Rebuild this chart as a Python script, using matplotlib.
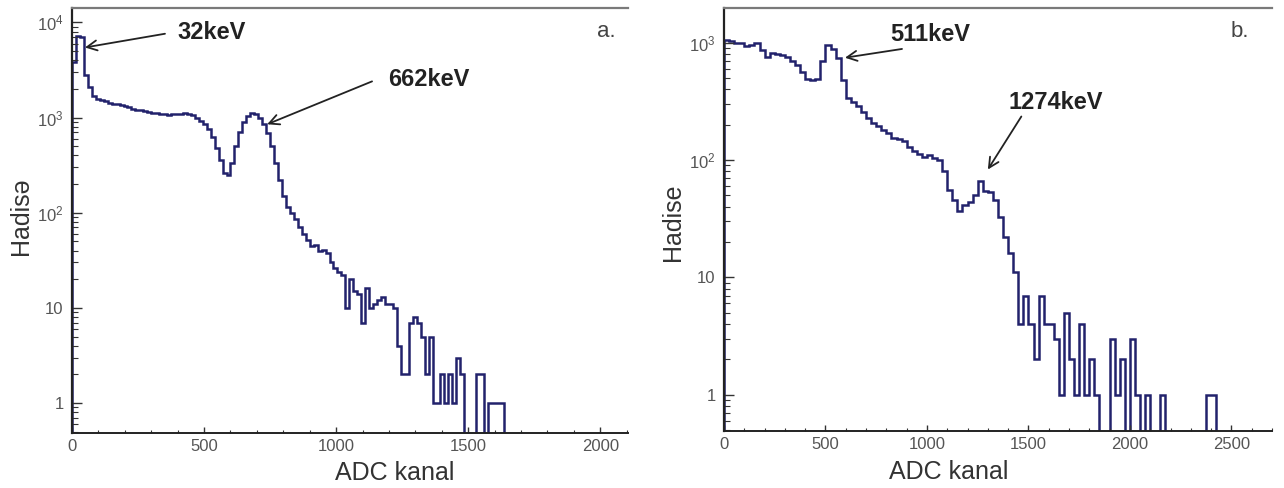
import numpy as np
import matplotlib
matplotlib.use("Agg")
import matplotlib.pyplot as plt
from matplotlib.ticker import FixedLocator, FixedFormatter, MultipleLocator

plt.rcParams["font.family"] = ["Liberation Sans", "DejaVu Sans"]
plt.rcParams["mathtext.default"] = "regular"

# ---- panel a: Cs-137 spectrum, 15-channel bins from 0 to 2100 ----
bin_a = 15
counts_a = [
    3800, 7200, 7000, 2800, 2100, 1700, 1580, 1530, 1480, 1430,
    1400, 1380, 1340, 1310, 1280, 1240, 1210, 1190, 1160, 1140,
    1110, 1120, 1090, 1080, 1060, 1090, 1100, 1090, 1110, 1090,
    1060, 1000, 930, 860, 760, 620, 480, 360, 260, 250,
    330, 500, 700, 890, 1050, 1130, 1100, 980, 860, 690,
    500, 330, 220, 150, 115, 100, 85, 70, 60, 52,
    45, 46, 40, 41, 38, 30, 26, 24, 22, 10,
    20, 15, 14, 7, 16, 10, 11, 12, 13, 11,
    11, 10, 4, 2, 2, 7, 8, 7, 5, 2,
    5, 1, 1, 2, 1, 2, 1, 3, 2, 0,
    0, 0, 2, 2, 0, 1, 1, 1, 1, 0,
]
counts_a = counts_a + [0] * (140 - len(counts_a))

# ---- panel b: Na-22 spectrum, 25-channel bins from 0 to 2700 ----
bin_b = 25
counts_b = [
    1050, 1030, 1000, 1000, 930, 960, 1000, 870, 760, 815,
    800, 790, 760, 700, 640, 560, 490, 480, 490, 700,
    960, 880, 740, 480, 340, 315, 290, 255, 230, 205,
    195, 180, 170, 155, 150, 145, 130, 120, 112, 106,
    110, 104, 100, 80, 55, 46, 37, 41, 44, 50,
    66, 54, 53, 46, 33, 22, 16, 11, 4, 7,
    4, 2, 7, 4, 4, 3, 1, 5, 2, 1,
    4, 1, 2, 1, 0, 0, 3, 1, 2, 0,
    3, 1, 0, 1, 0, 0, 1, 0, 0, 0,
    0, 0, 0, 0, 0, 1, 1, 0,
]
counts_b = counts_b + [0] * (108 - len(counts_b))

# (label, arrow head x, head y, arrow tail x, tail y, text x, text y)
peaks_a = [
    ("32keV", 49, 5450, 352, 7600, 398, 7800),
    ("662keV", 739, 850, 1136, 2400, 1195, 2500),
]
peaks_b = [
    ("511keV", 596, 745, 877, 885, 818, 1165),
    ("1274keV", 1300, 83, 1465, 235, 1400, 307),
]

line_color = "#22226c"
tick_color = "#555555"

fig = plt.figure(figsize=(12.84, 4.88), dpi=100)


def draw_panel(rect, counts, width, xlim, ylim, yticks, ylabels, xmajor,
               ylabel, ylabel_xy, xlabel_xy, tag, peaks):
    ax = fig.add_axes(rect)
    counts = np.asarray(counts, dtype=float)
    edges = np.arange(len(counts) + 1) * width
    floor = ylim[0] * 0.5
    shown = np.where(counts > 0, counts, floor)
    ax.stairs(shown, edges, baseline=floor, color=line_color, lw=1.8)

    ax.set_yscale("log")
    ax.set_xlim(*xlim)
    ax.set_ylim(*ylim)

    ax.yaxis.set_major_locator(FixedLocator(yticks))
    ax.yaxis.set_major_formatter(FixedFormatter(ylabels))
    ax.xaxis.set_major_locator(MultipleLocator(xmajor))
    ax.xaxis.set_minor_locator(MultipleLocator(100))

    ax.tick_params(axis="both", which="both", direction="in",
                   colors="#333333", labelcolor=tick_color, labelsize=12)
    ax.tick_params(axis="y", which="major", length=7, width=1.0, pad=6)
    ax.tick_params(axis="y", which="minor", length=4, width=0.8)
    ax.tick_params(axis="x", which="major", length=4, width=1.0, pad=4)
    ax.tick_params(axis="x", which="minor", length=2.5, width=0.8)

    ax.spines["right"].set_visible(False)
    ax.spines["top"].set_color("#7a7a7a")
    ax.spines["top"].set_linewidth(1.6)
    ax.spines["left"].set_color("#222222")
    ax.spines["left"].set_linewidth(1.6)
    ax.spines["bottom"].set_color("#222222")
    ax.spines["bottom"].set_linewidth(1.4)

    ax.set_xlabel("ADC kanal", fontsize=18, color="#333333")
    ax.xaxis.set_label_coords(*xlabel_xy)
    ax.set_ylabel(ylabel, fontsize=18, color="#333333")
    ax.yaxis.set_label_coords(*ylabel_xy)

    ax.text(tag[1], tag[2], tag[0], transform=ax.transAxes, fontsize=16,
            color="#444444", ha="left", va="center")

    for label, hx, hy, tx, ty, lx, ly in peaks:
        ax.annotate("", xy=(hx, hy), xytext=(tx, ty),
                    arrowprops=dict(arrowstyle="->", color="#222222",
                                    lw=1.3, mutation_scale=18,
                                    shrinkA=0, shrinkB=0))
        ax.text(lx, ly, label, fontsize=17, fontweight="bold",
                color="#222222", ha="left", va="center")
    return ax


draw_panel(
    [72 / 1284, 55 / 488, 556 / 1284, 425 / 488],
    counts_a, bin_a, (0, 2105), (0.484, 14170),
    [1, 10, 100, 1000, 10000],
    ["1", "10", "$10^2$", "$10^3$", "$10^4$"],
    500, "Hadisə", (-0.070, 0.51), (0.58, -0.066),
    ("a.", 0.945, 0.945), peaks_a,
)
draw_panel(
    [724 / 1284, 57 / 488, 548 / 1284, 423 / 488],
    counts_b, bin_b, (0, 2700), (0.49, 1977),
    [1, 10, 100, 1000],
    ["1", "10", "$10^2$", "$10^3$"],
    500, "Hadise", (-0.071, 0.494), (0.41, -0.069),
    ("b.", 0.925, 0.945), peaks_b,
)

fig.savefig("out.png", dpi=100, facecolor="white")
